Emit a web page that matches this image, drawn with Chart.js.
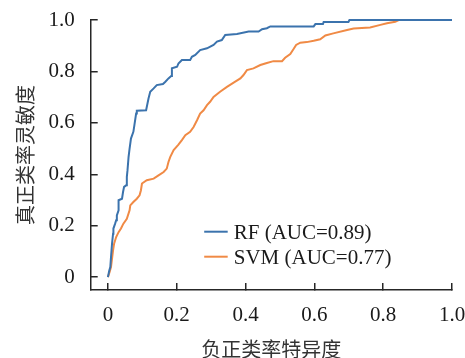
<!DOCTYPE html>
<html>
<head>
<meta charset="utf-8">
<script src="https://cdn.jsdelivr.net/npm/chart.js@4/dist/chart.umd.min.js"></script>
<style>
  html, body { margin: 0; padding: 0; background: #fff; }
  #wrap { width: 465px; height: 358px; }
</style>
</head>
<body>
<div id="wrap"><canvas id="c" width="465" height="358"></canvas></div>
<script>
// ---- data ----
const seriesNames = ['RF (AUC=0.89)', 'SVM (AUC=0.77)'];

const rfFpr = [0, 0.004, 0.007, 0.009, 0.012, 0.015, 0.016, 0.021, 0.024, 0.026, 0.031, 0.031, 0.041, 0.044, 0.047, 0.053, 0.055, 0.057, 0.060, 0.063, 0.067, 0.074, 0.077, 0.082, 0.084, 0.111, 0.118, 0.123, 0.133, 0.142, 0.160, 0.167, 0.176, 0.184, 0.186, 0.201, 0.205, 0.215, 0.239, 0.244, 0.254, 0.268, 0.288, 0.307, 0.317, 0.331, 0.341, 0.375, 0.409, 0.438, 0.448, 0.462, 0.472, 0.598, 0.603, 0.625, 0.627, 0.699, 0.702, 1.0];
const rfTpr = [0, 0.026, 0.039, 0.078, 0.130, 0.169, 0.189, 0.208, 0.221, 0.240, 0.260, 0.299, 0.305, 0.331, 0.351, 0.357, 0.390, 0.416, 0.467, 0.500, 0.539, 0.565, 0.591, 0.636, 0.647, 0.649, 0.695, 0.721, 0.734, 0.747, 0.751, 0.760, 0.773, 0.782, 0.812, 0.818, 0.831, 0.844, 0.844, 0.857, 0.864, 0.883, 0.890, 0.903, 0.916, 0.922, 0.942, 0.946, 0.955, 0.955, 0.964, 0.968, 0.975, 0.975, 0.984, 0.984, 0.992, 0.992, 1.0, 1.0];

const svmFpr = [0, 0.005, 0.009, 0.012, 0.015, 0.018, 0.024, 0.031, 0.038, 0.045, 0.055, 0.063, 0.065, 0.074, 0.084, 0.092, 0.096, 0.099, 0.113, 0.133, 0.147, 0.162, 0.171, 0.176, 0.181, 0.191, 0.205, 0.215, 0.225, 0.239, 0.249, 0.259, 0.268, 0.278, 0.288, 0.297, 0.307, 0.326, 0.346, 0.370, 0.385, 0.394, 0.404, 0.423, 0.443, 0.462, 0.481, 0.506, 0.515, 0.530, 0.540, 0.547, 0.559, 0.578, 0.598, 0.617, 0.632, 0.655, 0.695, 0.714, 0.762, 0.792, 0.811, 0.835, 0.845, 1.0];
const svmTpr = [0, 0.020, 0.039, 0.072, 0.104, 0.130, 0.156, 0.175, 0.189, 0.208, 0.227, 0.260, 0.279, 0.292, 0.305, 0.318, 0.338, 0.364, 0.377, 0.383, 0.396, 0.409, 0.422, 0.448, 0.467, 0.494, 0.515, 0.533, 0.552, 0.565, 0.584, 0.610, 0.636, 0.649, 0.669, 0.682, 0.701, 0.721, 0.740, 0.760, 0.773, 0.786, 0.805, 0.812, 0.825, 0.833, 0.840, 0.840, 0.853, 0.868, 0.888, 0.903, 0.912, 0.914, 0.919, 0.925, 0.940, 0.948, 0.961, 0.967, 0.971, 0.981, 0.987, 0.993, 1.0, 1.0];

const xTickValues = [0, 0.2, 0.4, 0.6, 0.8, 1.0];
const xTickLabels = ['0', '0.2', '0.4', '0.6', '0.8', '1.0'];
const yTickValues = [0, 0.2, 0.4, 0.6, 0.8, 1.0];
const yTickLabels = ['0', '0.2', '0.4', '0.6', '0.8', '1.0'];

const xTitle = '负正类率特异度';
const yTitle = '真正类率灵敏度';

// ---- chart ----
const SERIF = "'Liberation Serif', 'Times New Roman', serif";
const CJK = "'Liberation Serif', 'Noto Sans CJK SC', sans-serif";
const AXIS_COLOR = '#262626';
const colors = ['#3b73ad', '#f08a45'];

function toPoints(xs, ys) { return xs.map((x, i) => ({ x: x, y: ys[i] })); }

const legendPlugin = {
  id: 'innerLegend',
  afterDatasetsDraw(chart) {
    const ctx = chart.ctx;
    const a = chart.chartArea;
    const x0 = a.left + 113.5;
    const y0 = a.top + 211.7;
    const rowH = 25;
    ctx.save();
    ctx.font = '21px ' + SERIF;
    ctx.textBaseline = 'middle';
    ctx.textAlign = 'left';
    chart.data.datasets.forEach((ds, i) => {
      const y = y0 + i * rowH;
      ctx.strokeStyle = ds.borderColor;
      ctx.lineWidth = 2;
      ctx.beginPath();
      ctx.moveTo(x0, y);
      ctx.lineTo(x0 + 23.5, y);
      ctx.stroke();
      ctx.fillStyle = '#1a1a1a';
      ctx.fillText(ds.label, x0 + 29.5, y + 2);
    });
    ctx.restore();
  }
};

new Chart(document.getElementById('c'), {
  type: 'line',
  data: {
    datasets: [
      { label: seriesNames[0], data: toPoints(rfFpr, rfTpr), borderColor: colors[0], backgroundColor: colors[0], borderWidth: 2, pointRadius: 0, tension: 0, fill: false, clip: 4 },
      { label: seriesNames[1], data: toPoints(svmFpr, svmTpr), borderColor: colors[1], backgroundColor: colors[1], borderWidth: 2, pointRadius: 0, tension: 0, fill: false, clip: 4 }
    ]
  },
  options: {
    responsive: false,
    animation: false,
    devicePixelRatio: 1,
    layout: { padding: { top: 20, right: 13, bottom: 0, left: 0 } },
    plugins: { legend: { display: false }, tooltip: { enabled: false } },
    scales: {
      x: {
        type: 'linear',
        min: -0.05, max: 1.0,
        afterBuildTicks(scale) { scale.ticks = xTickValues.map(v => ({ value: v })); },
        afterFit(scale) { scale.height = 68; scale.paddingLeft = 0; scale.paddingRight = 0; },
        ticks: {
          color: '#1a1a1a', font: { family: SERIF, size: 21 }, padding: 20, maxRotation: 0,
          callback(v) { const i = xTickValues.findIndex(t => Math.abs(t - v) < 1e-9); return i >= 0 ? xTickLabels[i] : ''; }
        },
        grid: { drawOnChartArea: false, drawTicks: true, tickLength: -7, color: AXIS_COLOR, lineWidth: 1.5 },
        border: { display: true, color: AXIS_COLOR, width: 1.5 },
        title: { display: true, text: xTitle, color: '#333', font: { family: CJK, size: 20 }, padding: { top: 0, bottom: -6 } }
      },
      y: {
        type: 'linear',
        min: -0.05, max: 1.0,
        afterBuildTicks(scale) { scale.ticks = yTickValues.map(v => ({ value: v })); },
        afterFit(scale) { scale.width = 90.7; scale.paddingTop = 0; scale.paddingBottom = 0; },
        ticks: {
          color: '#1a1a1a', font: { family: SERIF, size: 21 }, padding: 23,
          callback(v) { const i = yTickValues.findIndex(t => Math.abs(t - v) < 1e-9); return i >= 0 ? yTickLabels[i] : ''; }
        },
        grid: { drawOnChartArea: false, drawTicks: true, tickLength: -7, color: AXIS_COLOR, lineWidth: 1.5 },
        border: { display: true, color: AXIS_COLOR, width: 1.5 },
        title: { display: true, text: yTitle, color: '#333', font: { family: CJK, size: 20 }, padding: { top: 16, bottom: 0 } }
      }
    }
  },
  plugins: [legendPlugin]
});
</script>
</body>
</html>
